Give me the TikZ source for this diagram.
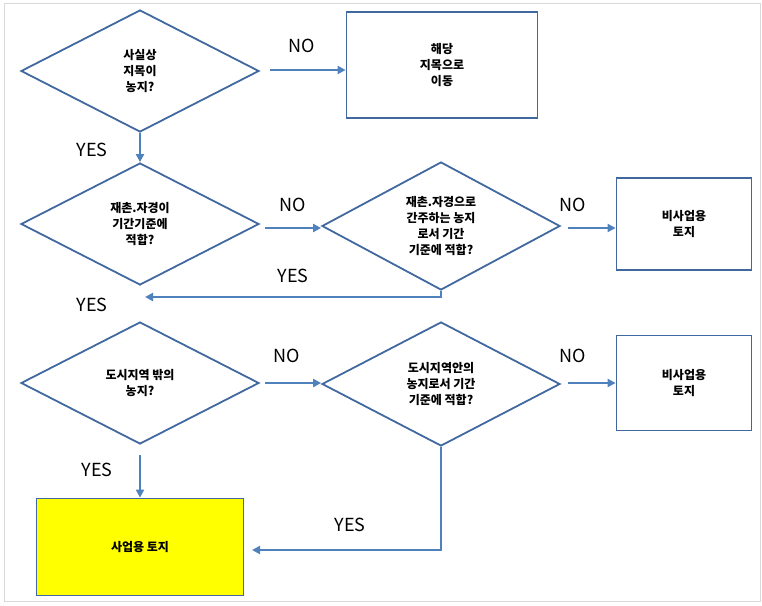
\documentclass[tikz,border=0pt]{standalone}
\usepackage{fontspec}
\setmainfont{Noto Sans CJK KR}
\usetikzlibrary{shapes.geometric,arrows.meta}
\definecolor{flowblue}{RGB}{65,105,160}
\definecolor{arrowblue}{RGB}{79,129,189}
\definecolor{flowyellow}{RGB}{255,255,0}

\begin{document}
\begin{tikzpicture}[x=1pt, y=-1pt,
    ask/.style={diamond, draw=flowblue, line width=1.8pt, aspect=2, inner sep=0pt,
      minimum width=238pt, minimum height=122pt, align=center, font=\fontsize{12}{16}\selectfont\bfseries},
    goal/.style={rectangle, draw=flowblue, line width=1.8pt, align=center, font=\fontsize{12}{16}\selectfont\bfseries},
    flow/.style={-{Triangle[length=8pt,width=8pt]}, draw=arrowblue, line width=2pt},
    ans/.style={font=\fontsize{18}{20}\selectfont}]
    % frame
    \draw[gray!30, line width=1pt] (4,3) rectangle (760,601);
    \useasboundingbox (0,0) rectangle (762,605);

    % first row
    \node[ask] (q1) at (140,71) {사실상\\지목이\\농지?};
    \node[goal, minimum width=191pt, minimum height=106pt] (move) at (442,65) {해당\\지목으로\\이동};
    \draw[flow] (270,70) -- (move.west |- 0,70);
    \node[ans] at (302,46) {NO};

    % second row
    \node[ask] (q2) at (140,224) {재촌.자경이\\기간기준에\\적합?};
    \node[ask, minimum height=128pt] (q3) at (441,226) {재촌.자경으로\\간주하는 농지\\로서 기간\\기준에 적합?};
    \node[goal, minimum width=135pt, minimum height=92pt] (non1) at (684,224) {비사업용\\토지};
    \draw[flow] (q1.south) -- (q2.north);
    \node[ans] at (92,150) {YES};
    \draw[flow] (265,228) -- (q3.west |- 0,228);
    \node[ans] at (293,205) {NO};
    \draw[flow] (568,228) -- (non1.west |- 0,228);
    \node[ans] at (573,205) {NO};

    % third row
    \node[ask] (q4) at (140,383) {도시지역 밖의\\농지?};
    \node[ask, minimum height=124pt] (q5) at (441,384) {도시지역안의\\농지로서 기간\\기준에 적합?};
    \node[goal, minimum width=135pt, minimum height=95pt] (non2) at (684,383) {비사업용\\토지};
    \coordinate (back1) at (441,297);
    \draw[flow] (q3.south) -- (back1) -- (145,297);
    \node[ans] at (293,276) {YES};
    \node[ans] at (92,305) {YES};
    \draw[flow] (265,383) -- (q5.west |- 0,383);
    \node[ans] at (287,356) {NO};
    \draw[flow] (568,383) -- (non2.west |- 0,383);
    \node[ans] at (573,356) {NO};

    % result
    \node[goal, fill=flowyellow, minimum width=207pt, minimum height=97pt] (biz) at (140,547) {사업용 토지};
    \draw[flow] (140,455) -- (biz.north);
    \node[ans] at (97,470) {YES};
    \coordinate (back2) at (441,550);
    \draw[flow] (q5.south) -- (back2) -- (252,550);
    \node[ans] at (350,525) {YES};
\end{tikzpicture}
\end{document}
